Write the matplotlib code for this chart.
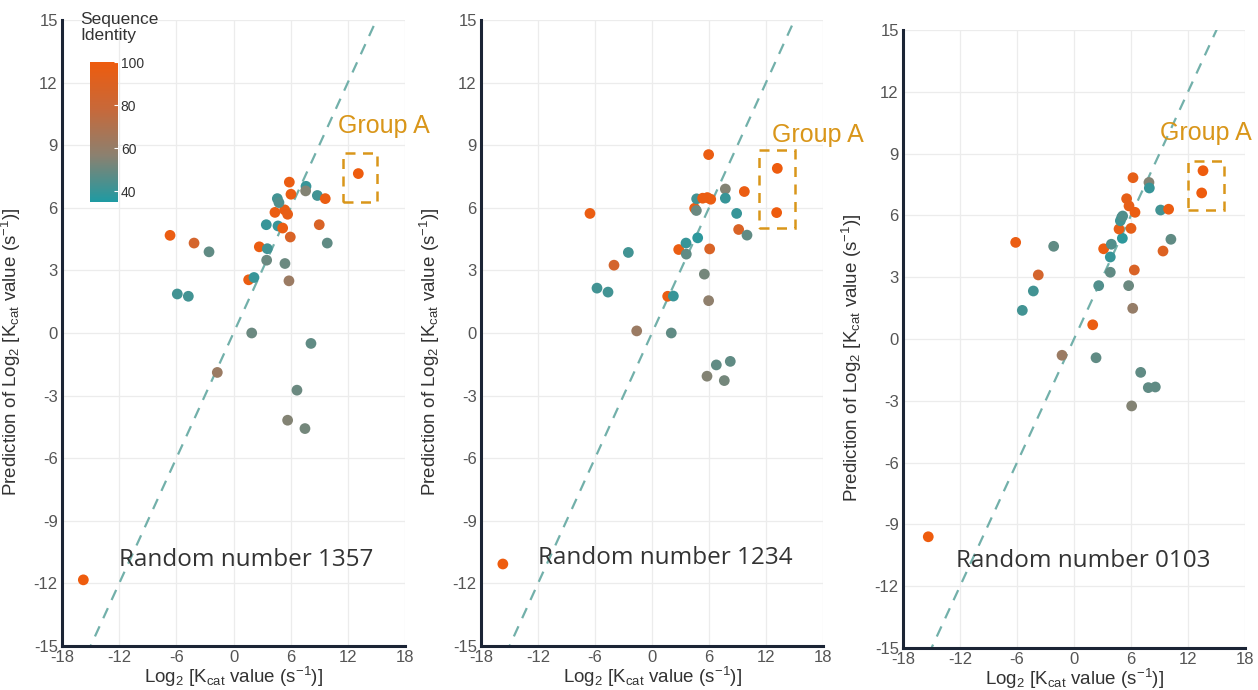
import matplotlib.pyplot as plt
from matplotlib.colors import LinearSegmentedColormap
from matplotlib.patches import Rectangle
import numpy as np

# identity codes: 98 orange, 85 orange-brown, 62 brown-gray, 55 gray, 48 gray-teal, 40 teal
x1357 = [-6.66, -4.14, -2.57, -5.9, -4.74, -1.7, 1.91, 1.59, 2.15, 2.71, 3.55, 3.48, 3.44, 4.67,
         5.16, 4.35, 5.37, 5.68, 4.6, 4.77, 5.86, 6.03, 5.96, 5.4, 5.82, 7.61, 7.57, 8.8, 9.63,
         9.0, 9.84, 8.13, 6.66, 5.68, 7.5, 13.1, -15.76]
y1357 = [4.68, 4.31, 3.89, 1.87, 1.76, -1.89, 0.0, 2.55, 2.66, 4.13, 4.04, 3.49, 5.19, 5.13,
         5.03, 5.78, 5.9, 5.69, 6.44, 6.25, 7.23, 6.65, 4.6, 3.33, 2.5, 7.03, 6.81, 6.59, 6.44,
         5.19, 4.31, -0.5, -2.74, -4.18, -4.58, 7.64, -11.83]
id1357 = [98, 85, 48, 42, 42, 62, 50, 98, 40, 98, 42, 50, 40, 40,
          98, 98, 98, 96, 42, 45, 98, 98, 88, 50, 62, 40, 55, 42, 98,
          88, 48, 48, 50, 55, 52, 100, 100]

x1234 = [-6.53, -4.0, -2.49, -5.79, -4.63, -1.61, 1.65, 2.25, 2.03, 2.81, 3.58, 3.61, 4.81, 4.49,
         4.67, 4.7, 5.33, 5.82, 6.18, 5.96, 6.07, 5.51, 5.96, 7.72, 7.72, 9.72, 8.91, 9.12, 10.0,
         6.77, 8.24, 5.79, 7.61, 13.19, 13.12, -15.7]
y1234 = [5.73, 3.25, 3.86, 2.15, 1.96, 0.1, 1.76, 1.77, 0.0, 4.0, 4.31, 3.78, 4.56, 5.98,
         5.87, 6.43, 6.46, 6.49, 6.41, 8.55, 4.03, 2.82, 1.55, 6.9, 6.46, 6.78, 5.73, 4.96, 4.69,
         -1.53, -1.36, -2.07, -2.28, 7.89, 5.77, -11.07]
id1234 = [98, 85, 42, 42, 42, 62, 98, 40, 48, 98, 40, 48, 38, 98,
          50, 42, 98, 98, 98, 98, 88, 52, 58, 55, 40, 98, 40, 88, 48,
          48, 48, 55, 52, 100, 100, 100]

x0103 = [-6.14, -3.76, -2.14, -4.28, -5.44, -1.26, 1.97, 2.32, 2.6, 3.12, 3.93, 3.82, 3.82, 5.09,
         4.74, 6.0, 4.88, 5.02, 5.12, 5.54, 5.79, 6.42, 6.21, 6.35, 5.75, 6.18, 7.89, 7.93, 9.12,
         9.96, 10.2, 9.37, 7.02, 7.82, 8.56, 6.07, 13.58, 13.44, -15.34]
y0103 = [4.69, 3.11, 4.5, 2.33, 1.39, -0.79, 0.69, -0.91, 2.59, 4.38, 4.6, 3.98, 3.24, 4.89,
         5.34, 5.37, 5.74, 5.9, 5.97, 6.81, 6.46, 6.15, 7.83, 3.35, 2.59, 1.49, 7.6, 7.33, 6.26,
         6.3, 4.84, 4.27, -1.62, -2.36, -2.33, -3.25, 8.17, 7.09, -9.6]
id0103 = [98, 85, 48, 42, 42, 62, 98, 48, 45, 98, 45, 40, 48, 38,
          95, 95, 42, 42, 45, 95, 95, 98, 95, 88, 50, 60, 55, 40, 42,
          98, 48, 90, 48, 48, 48, 55, 100, 100, 100]

panels = [
    ("Random number 1357", x1357, y1357, id1357),
    ("Random number 1234", x1234, y1234, id1234),
    ("Random number 0103", x0103, y0103, id0103),
]
# Group A box (x0, x1, y0, y1) and label position per panel
group_box = [(11.5, 15.05, 6.28, 8.62), (11.3, 15.1, 5.01, 8.77), (12.0, 15.8, 6.28, 8.66)]
group_lbl = [(11.0, 9.9), (12.6, 9.5), (9.1, 10.0)]
rand_lbl = [(-12.0, -10.9), (-12.0, -10.8), (-12.4, -10.8)]

ticks = [-18, -12, -6, 0, 6, 12, 18]
yticks = [-15, -12, -9, -6, -3, 0, 3, 6, 9, 12, 15]

cmap = LinearSegmentedColormap.from_list("ident", ["#1f9ba3", "#8c8170", "#c8693a", "#ee5c0e"])
vmin, vmax = 35, 100
gold = "#D9961A"

plt.rcParams['font.family'] = ['Liberation Sans', 'DejaVu Sans']
plt.rcParams['axes.unicode_minus'] = False
plt.rcParams['mathtext.default'] = 'regular'

fig = plt.figure(figsize=(12.58, 6.9), dpi=100)
rects = [
    [62 / 1258, 44 / 690, 343 / 1258, 626 / 690],
    [481 / 1258, 44 / 690, 342 / 1258, 626 / 690],
    [903 / 1258, 42 / 690, 342 / 1258, 618 / 690],
]

for i, (title, xs, ys, ids) in enumerate(panels):
    ax = fig.add_axes(rects[i])
    ax.set_xlim(-18, 18)
    ax.set_ylim(-15, 15)
    ax.set_xticks(ticks)
    ax.set_yticks(yticks)
    ax.grid(True, color="#ececec", lw=0.9)
    ax.set_axisbelow(True)
    for s in ["top", "right"]:
        ax.spines[s].set_visible(False)
    for s in ["left", "bottom"]:
        ax.spines[s].set_color("#1b2435")
        ax.spines[s].set_linewidth(2.2)
    ax.tick_params(length=0, labelsize=12, labelcolor="#555555", pad=3)
    ax.plot([-18, 18], [-18, 18], ls=(0, (5, 4)), color="#72b0aa", lw=1.6, zorder=1)
    ax.scatter(xs, ys, c=ids, cmap=cmap, vmin=vmin, vmax=vmax, s=60, edgecolors="none", zorder=3)
    bx0, bx1, by0, by1 = group_box[i]
    ax.add_patch(Rectangle((bx0, by0), bx1 - bx0, by1 - by0, fill=False, ec=gold,
                           lw=1.8, ls=(0, (4, 3)), zorder=4))
    ax.text(group_lbl[i][0], group_lbl[i][1], "Group A", color=gold, fontsize=18,
            va="center", ha="left", clip_on=False)
    ax.text(rand_lbl[i][0], rand_lbl[i][1], title, fontsize=17.5, color="#333333",
            va="center", ha="left", family=["Open Sans", "DejaVu Sans"])
    ax.set_xlabel(r"Log$_2$ [K$_{cat}$ value (s$^{-1}$)]", fontsize=13.5, color="#333333", labelpad=0)
    ax.set_ylabel(r"Prediction of Log$_2$ [K$_{cat}$ value (s$^{-1}$)]", fontsize=13.5,
                  color="#333333", labelpad=2)
    ax.yaxis.set_label_coords(-0.115, 0.47)

# colour bar for sequence identity
cax = fig.add_axes([90 / 1258, (690 - 202) / 690, 28 / 1258, 140 / 690])
grad = np.linspace(vmin, vmax, 256).reshape(-1, 1)
cax.imshow(grad, aspect="auto", cmap=cmap, origin="lower", extent=[0, 1, vmin, vmax])
cax.set_xticks([])
cax.set_yticks([40, 60, 80, 100])
cax.yaxis.tick_right()
cax.tick_params(axis="y", length=3, color="white", direction="in", labelsize=10, labelcolor="#333333", pad=2)
for s in cax.spines.values():
    s.set_visible(False)
fig.text(80 / 1258, 1 - 12 / 690, "Sequence\nIdentity", fontsize=12.5, color="#333333",
         va="top", ha="left", linespacing=1.05)

fig.savefig("out.png", dpi=100)
